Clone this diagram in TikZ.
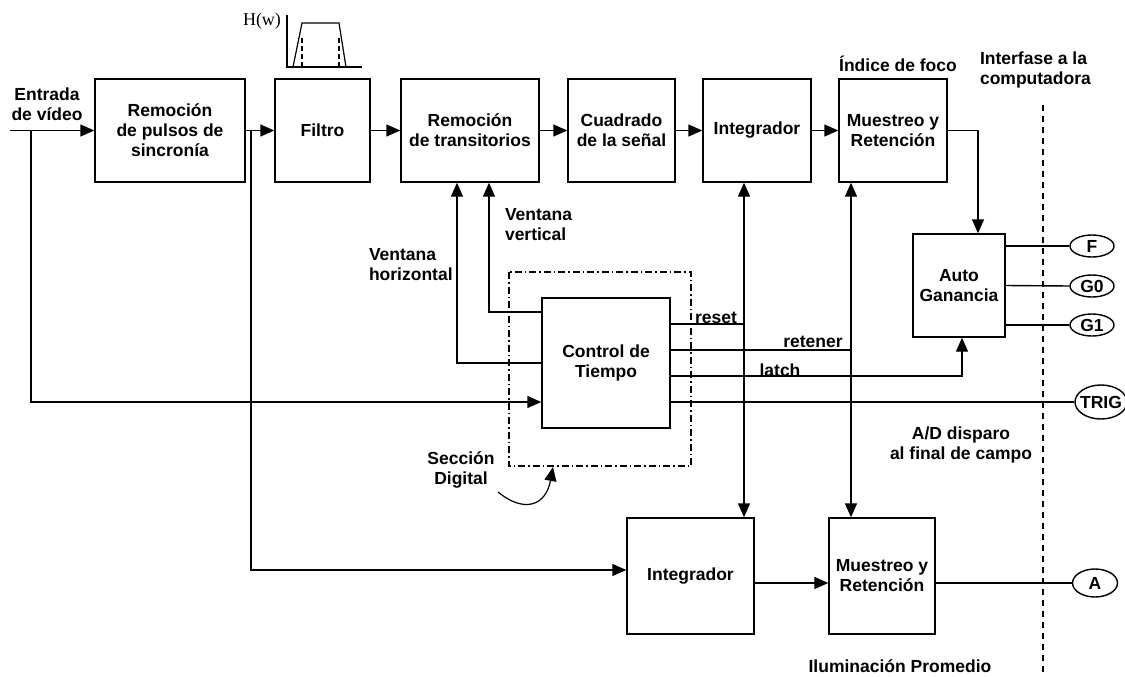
\documentclass[tikz,border=0pt]{standalone}
\usepackage{fontspec}
\setmainfont{Liberation Sans}
\newfontfamily\serifh{Liberation Serif}
\usetikzlibrary{arrows.meta,shapes.geometric}

\begin{document}
\begin{tikzpicture}[x=1pt, y=-1pt, line width=1.4pt,
  >={Triangle[length=14pt,width=12pt]},
  every node/.style = {font=\fontsize{17.5}{20}\selectfont\bfseries, align=center},
  bloque/.style = {draw, rectangle, minimum height=103pt, inner sep=0pt},
  term/.style = {draw, ellipse, inner sep=0pt, minimum width=44pt, minimum height=22pt},
  seccion/.style = {line width=1.2pt, dash pattern=on 7pt off 3pt on 1.5pt off 3pt},
  frontera/.style = {line width=1.2pt, dash pattern=on 6pt off 5pt}]
  \useasboundingbox (0,0) rectangle (1125,677);

  % bloques
  \node[bloque, minimum width=150pt] (pulsos) at (170,130.5) {Remoción\\de pulsos de\\sincronía};
  \node[bloque, minimum width=95pt] (filtro) at (322.5,130.5) {Filtro};
  \node[bloque, minimum width=138pt] (trans) at (470,130.5) {Remoción\\de transitorios};
  \node[bloque, minimum width=107pt] (cuad) at (621.5,130.5) {Cuadrado\\de la señal};
  \node[bloque, minimum width=108pt] (integA) at (757,130.5) {Integrador};
  \node[bloque, minimum width=108pt] (muestA) at (893,130.5) {Muestreo y\\Retención};
  \node[bloque, minimum width=92pt] (auto) at (959,285.5) {Auto\\Ganancia};
  \node[bloque, minimum width=128pt, minimum height=130pt] (ctrl) at (606,363) {Control de\\Tiempo};
  \node[bloque, minimum width=127pt, minimum height=116pt] (integB) at (690.5,576) {Integrador};
  \node[bloque, minimum width=106pt, minimum height=116pt] (muestB) at (882,576) {Muestreo y\\Retención};

  % terminales
  \node[term] (F) at (1092,246) {F};
  \node[term] (G0) at (1092,286) {G0};
  \node[term] (G1) at (1092,325) {G1};
  \node[term, inner xsep=-3pt, minimum width=52pt, minimum height=34pt] (trig) at (1101,402) {TRIG};
  \node[term, minimum width=45pt, minimum height=28pt] (A) at (1095,583) {A};

  % etiquetas
  \node (lentrada) at (47,104) {Entrada\\de vídeo};
  \node[anchor=west, align=left] (lvh) at (365,265) {Ventana\\horizontal};
  \node[anchor=west, align=left] (lvv) at (501,225) {Ventana\\vertical};
  \node (lsec) at (461,470) {Sección\\Digital};
  \node (lindice) at (898,64) {Índice de foco};
  \node[anchor=west, align=left] (linterf) at (976,70) {Interfase a la\\computadora};
  \node (lad) at (961,445) {A/D disparo\\al final de campo};
  \node (lilum) at (900,666) {Iluminación Promedio};
  \node (lreset) at (716,318) {reset};
  \node (lretener) at (813,342) {retener};
  \node (llatch) at (780,370) {latch};

  % filtro H(w)
  \node[font=\serifh\fontsize{18}{20}\selectfont] (hw) at (262,21) {H(w)};
  \draw[line width=1.2pt] (287,15) -- (287,67) -- (362,67);
  \draw[line width=1.2pt] (293,67) -- (302,23) -- (339,23) -- (346,67);
  \draw[line width=1.2pt, dash pattern=on 5pt off 3pt] (302,38) -- (302,67) (339,38) -- (339,67);

  % camino principal
  \coordinate (entrada) at (10,130.5);
  \coordinate (nodoA) at (31,130.5);
  \coordinate (nodoB) at (251,130.5);
  \draw[->] (entrada) -- (pulsos.west);
  \draw[->] (pulsos.east) -- (filtro.west);
  \draw[->] (filtro.east) -- (trans.west);
  \draw[->] (trans.east) -- (cuad.west);
  \draw[->] (cuad.east) -- (integA.west);
  \draw[->] (integA.east) -- (muestA.west);
  \draw[->] (muestA.east) -| ([xshift=19pt]auto.north);
  \draw[->] (nodoA) |- (ctrl.west |- trig.west);
  \draw[->] (nodoB) |- ([yshift=6pt]integB.west);
  \draw[->] ([yshift=-7pt]integB.east) -- ([yshift=-7pt]muestB.west);
  \draw ([yshift=-7pt]muestB.east) -- (A.west);

  % ventanas
  \draw[->] ([yshift=51pt]ctrl.west) -| ([xshift=19pt]trans.south);
  \draw[->] (ctrl.west) -| ([xshift=-13pt]trans.south);

  % control
  \coordinate (bus1) at ([xshift=-13pt]integA.south);
  \coordinate (bus2) at ([xshift=-42pt]muestA.south);
  \coordinate (s1) at ([yshift=39pt]ctrl.east);
  \coordinate (s2) at ([yshift=13pt]ctrl.east);
  \coordinate (s3) at ([yshift=-13pt]ctrl.east);
  \draw[<->] (bus1) -- (bus1 |- integB.north);
  \draw[<->] (bus2) -- (bus2 |- muestB.north);
  \draw (s1) -- (s1 -| bus1);
  \draw (s2) -- (s2 -| bus2);
  \draw[->] (s3) -| ([xshift=3pt]auto.south);
  \draw ([yshift=-39pt]ctrl.east) -- (trig.west);

  % salidas
  \draw ([yshift=39.5pt]auto.east) -- (F.west);
  \draw (auto.east) -- (G0.west);
  \draw ([yshift=-39.5pt]auto.east) -- (G1.west);

  % seccion digital
  \draw[seccion] (509,272) rectangle (691,466);
  \coordinate (c1) at (498,492);
  \coordinate (c2) at (553,467);
  \draw[->, line width=1.2pt] (c1) .. controls (525,514) and (546,505) .. (c2);
  \draw[frontera] (1043,105) -- (1043,677);
\end{tikzpicture}
\end{document}
